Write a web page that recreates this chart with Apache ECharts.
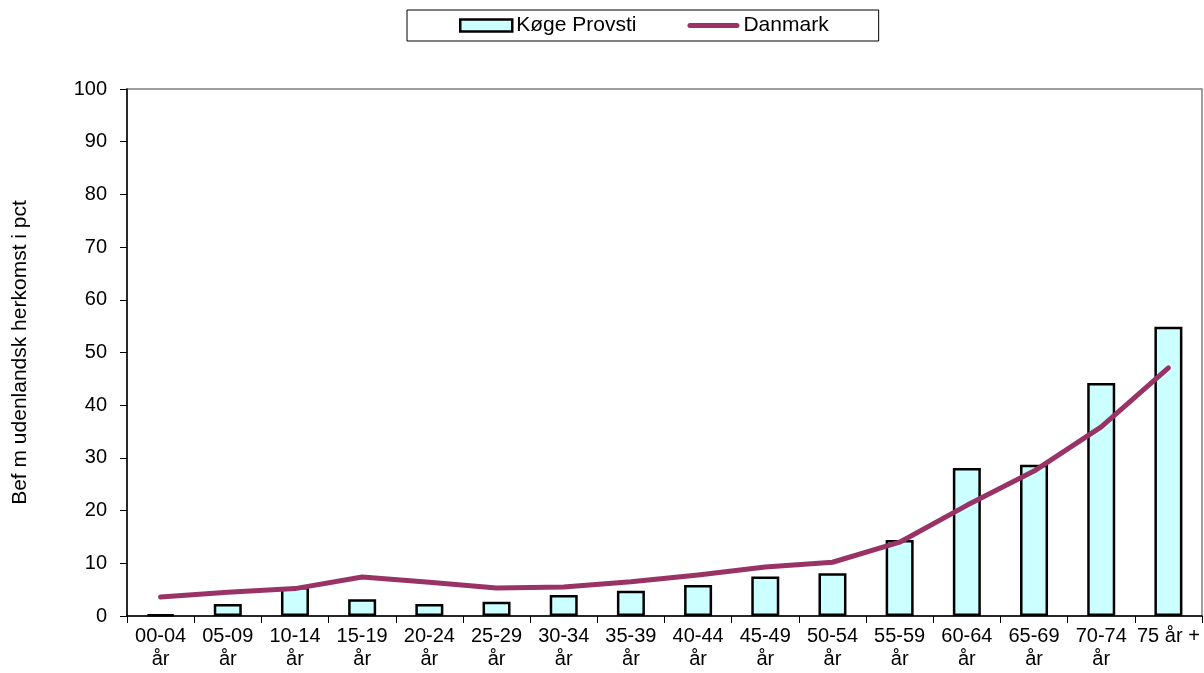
<!DOCTYPE html>
<html>
<head>
<meta charset="utf-8">
<script src="https://cdn.jsdelivr.net/npm/echarts@6/dist/echarts.min.js"></script>
<style>html,body{margin:0;padding:0;background:#fff}#c{width:1204px;height:673px}</style>
</head>
<body>
<div id="c"></div>
<script>
const categories = ['00-04\når','05-09\når','10-14\når','15-19\når','20-24\når','25-29\når','30-34\når','35-39\når','40-44\når','45-49\når','50-54\når','55-59\når','60-64\når','65-69\når','70-74\når','75 år +'];
const koegeProvsti = [0.3,2.3,5.5,3.2,2.3,2.7,4.0,4.8,5.9,7.5,8.1,14.4,28.1,28.7,44.2,54.9];
const danmark = [3.6,4.5,5.2,7.4,6.4,5.3,5.5,6.5,7.8,9.3,10.2,14.0,21.0,27.5,35.9,47.1];
const yTicks = {min:0, max:100, interval:10};
const F = '"Liberation Sans", Arial, sans-serif';

const chart = echarts.init(document.getElementById('c'));
chart.setOption({
  animation:false,
  textStyle:{fontFamily:F},
  legend:{
    left:407, top:10,
    padding:[5,50,5,52],
    borderColor:'#000', borderWidth:1,
    itemWidth:52, itemHeight:12, itemGap:51,
    textStyle:{fontFamily:F, fontSize:21, color:'#000', padding:[0,0,0,-1]},
    data:[
      {name:'Køge Provsti', icon:'rect', itemStyle:{color:'#CCFFFF', borderColor:'#000', borderWidth:2.5}},
      {name:'Danmark', icon:'path://M2.5,0 L49.5,0 A2.5,2.5 0 0 1 49.5,5 L2.5,5 A2.5,2.5 0 0 1 2.5,0 Z', itemStyle:{color:'#993366'}}
    ]
  },
  grid:{left:127, right:2, top:89, bottom:57, show:true, borderColor:'#808080', borderWidth:1.5, backgroundColor:'transparent'},
  xAxis:{
    type:'category', data:categories, boundaryGap:true,
    axisLine:{lineStyle:{color:'#000', width:1.5}},
    axisTick:{show:true, length:7, alignWithLabel:false, lineStyle:{color:'#000'}},
    axisLabel:{fontFamily:F, fontSize:20, color:'#000', margin:9, lineHeight:23, interval:0}
  },
  yAxis:{
    type:'value', min:yTicks.min, max:yTicks.max, interval:yTicks.interval,
    name:'Bef m udenlandsk herkomst i pct', nameLocation:'middle', nameGap:96,
    nameTextStyle:{fontFamily:F, fontSize:21, color:'#000'},
    axisLine:{show:true, lineStyle:{color:'#000', width:1.5}},
    axisTick:{show:true, length:7, lineStyle:{color:'#000'}},
    axisLabel:{fontFamily:F, fontSize:20, color:'#000', margin:20},
    splitLine:{show:false}
  },
  series:[
    {name:'Køge Provsti', type:'bar', data:koegeProvsti, barWidth:28,
     itemStyle:{color:'#CCFFFF', borderColor:'#000', borderWidth:2.5}},
    {name:'Danmark', type:'line', data:danmark, symbol:'none', showSymbol:false,
     lineStyle:{color:'#993366', width:5, cap:'round', join:'round'}, itemStyle:{color:'#993366'}}
  ]
});
</script>
</body>
</html>
